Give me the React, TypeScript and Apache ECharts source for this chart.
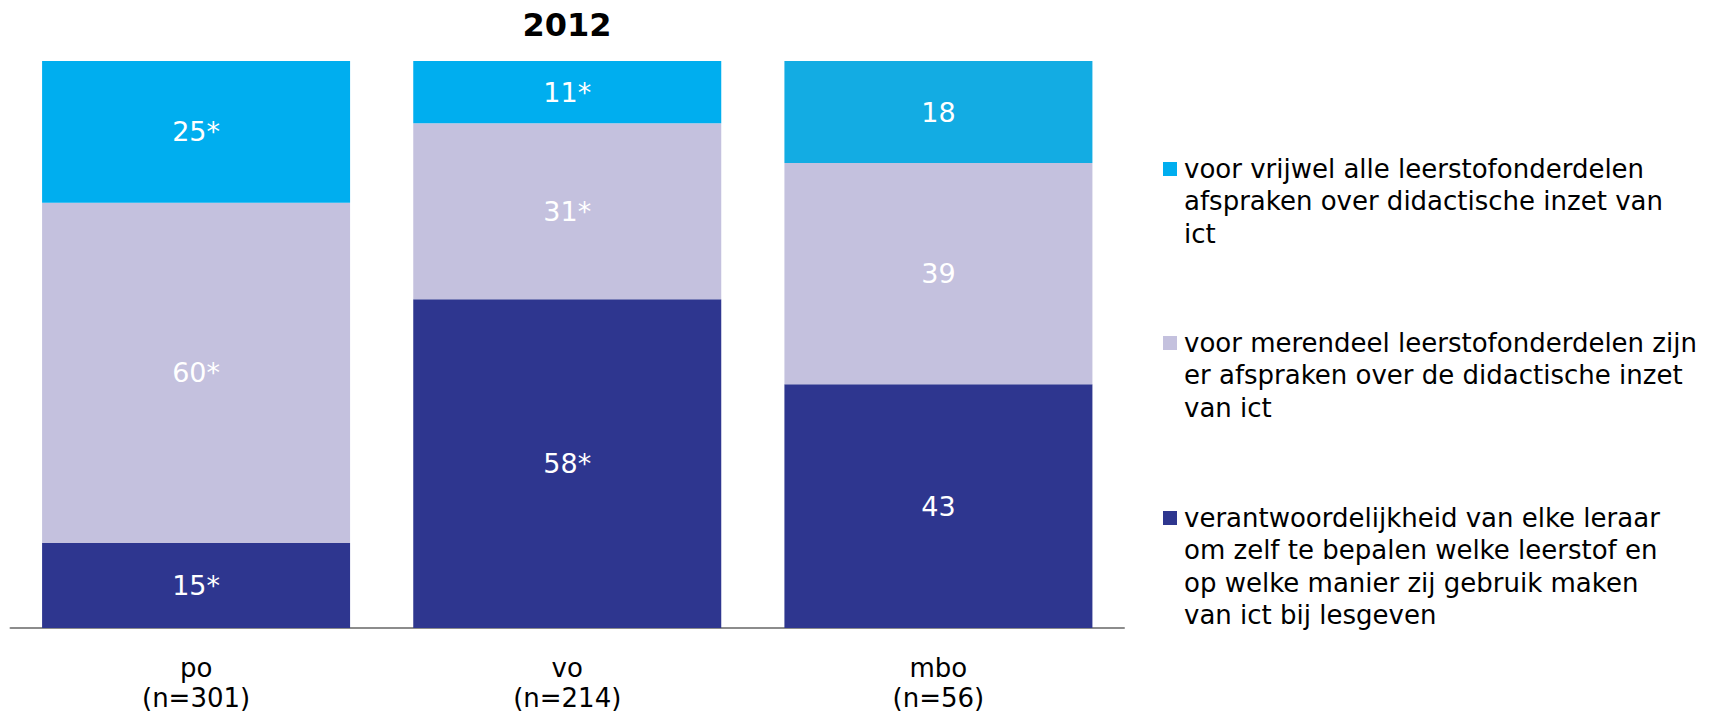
import React, { useEffect, useRef } from "react";
import * as echarts from "echarts";

const title = "2012";
const categories = ["po\n(n=301)", "vo\n(n=214)", "mbo\n(n=56)"];
const labelSuffix = ["*", "*", ""];

const seriesNames = [
  "verantwoordelijkheid van elke leraar\nom zelf te bepalen welke leerstof en\nop welke manier zij gebruik maken\nvan ict bij lesgeven",
  "voor merendeel leerstofonderdelen zijn\ner afspraken over de didactische inzet\nvan ict",
  "voor vrijwel alle leerstofonderdelen\nafspraken over didactische inzet van\nict",
];
const bottomValues = [15, 58, 43];
const middleValues = [60, 31, 39];
const topValues = [25, 11, 18];
const seriesValues = [bottomValues, middleValues, topValues];
const seriesColors = ["#2E368F", "#C4C1DE", "#00AEEF"];
const topColorsPerCategory = ["#00AEEF", "#00AEEF", "#13ACE3"];

const FONT = "Verdana, 'DejaVu Sans', sans-serif";

export default function App() {
  const ref = useRef<HTMLDivElement>(null);

  useEffect(() => {
    if (!ref.current) return;
    const chart = echarts.init(ref.current, null, { renderer: "svg" });

    const series = seriesValues.map((vals, si) => ({
      name: seriesNames[si],
      type: "bar",
      stack: "total",
      barWidth: 308,
      data: vals.map((v, ci) => ({
        value: v,
        itemStyle: {
          color: si === 2 ? topColorsPerCategory[ci] : seriesColors[si],
        },
      })),
      label: {
        show: true,
        position: "inside",
        color: "#ffffff",
        fontFamily: FONT,
        fontSize: 27,
        formatter: (p: any) => `${p.value}${labelSuffix[p.dataIndex]}`,
      },
      emphasis: { disabled: true },
    }));

    const legendTops = [169, 343, 518];
    const legendOrder = [2, 1, 0];
    const graphic: any[] = [];
    legendOrder.forEach((si, i) => {
      const cy = legendTops[i];
      graphic.push({
        type: "rect",
        shape: { x: 1163, y: cy - 7, width: 14, height: 14 },
        style: { fill: seriesColors[si] },
      });
      graphic.push({
        type: "text",
        x: 1184,
        y: cy - 16.5,
        style: {
          text: seriesNames[si],
          fill: "#000000",
          font: `26px ${FONT}`,
          lineHeight: 32.5,
          verticalAlign: "top",
          align: "left",
        },
      });
    });
    graphic.push({
      type: "text",
      x: 567,
      y: 25,
      style: {
        text: title,
        fill: "#000000",
        font: `bold 32px ${FONT}`,
        align: "center",
        verticalAlign: "middle",
      },
    });

    chart.setOption({
      animation: false,
      grid: { left: 10.5, right: 603, top: 61, bottom: 82, containLabel: false },
      xAxis: {
        type: "category",
        data: categories,
        axisLine: { show: true, lineStyle: { color: "#8c8c8c", width: 2 } },
        axisTick: { show: false },
        axisLabel: {
          color: "#000000",
          fontFamily: FONT,
          fontSize: 26,
          lineHeight: 30,
          margin: 25,
        },
      },
      yAxis: {
        type: "value",
        min: 0,
        max: 100,
        show: false,
        splitLine: { show: false },
      },
      series,
      graphic,
    });

    return () => chart.dispose();
  }, []);

  return (
    <div
      ref={ref}
      style={{ position: "fixed", left: 0, top: 0, width: 1727, height: 713, background: "#ffffff" }}
    />
  );
}
